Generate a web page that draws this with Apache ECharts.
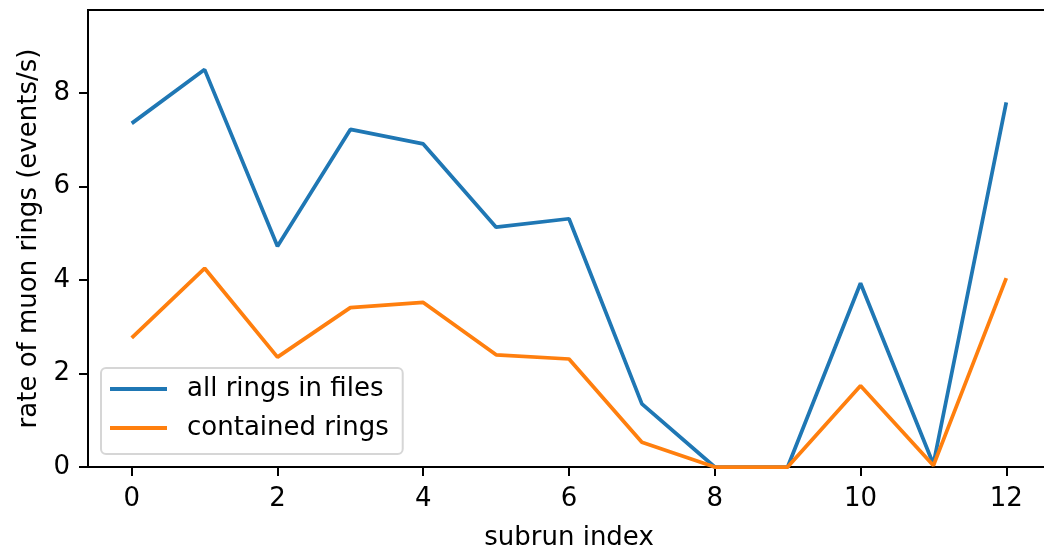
<!DOCTYPE html>
<html>
<head>
<meta charset="utf-8">
<script src="https://cdn.jsdelivr.net/npm/echarts@6/dist/echarts.min.js"></script>
<style>
  html, body { margin: 0; padding: 0; background: #fff; }
  #chart { width: 1044px; height: 549px; }
</style>
</head>
<body>
<div id="chart"></div>
<script>
// subrun indices on the x axis
const subruns = [0, 1, 2, 3, 4, 5, 6, 7, 8, 9, 10, 11, 12];
// muon ring rates (events/s) per subrun
const allRings = [7.35, 8.50, 4.72, 7.22, 6.91, 5.13, 5.31, 1.35, 0.0, 0.0, 3.93, 0.06, 7.80];
const containedRings = [2.76, 4.25, 2.35, 3.41, 3.52, 2.40, 2.31, 0.53, 0.0, 0.0, 1.74, 0.03, 4.04];
// tick values
const xTicks = [0, 2, 4, 6, 8, 10, 12];
const yTicks = [0, 2, 4, 6, 8];

const FONT = 'DejaVu Sans';
const pairs = (ys) => subruns.map((x, i) => [x, ys[i]]);

const chart = echarts.init(document.getElementById('chart'), null, { renderer: 'canvas' });
chart.setOption({
  animation: false,
  backgroundColor: '#ffffff',
  textStyle: { fontFamily: FONT },
  grid: {
    left: 88, top: 10, right: -6, bottom: 82,
    outerBoundsMode: 'none',
    containLabel: false,
    show: true, borderColor: '#000', borderWidth: 2, backgroundColor: 'transparent'
  },
  xAxis: {
    type: 'value',
    min: -0.6, max: 12.6,
    name: 'subrun index',
    nameLocation: 'middle',
    nameGap: 58,
    nameTextStyle: { fontFamily: FONT, fontSize: 26, color: '#000' },
    axisLine: { show: true, onZero: false, lineStyle: { color: '#000', width: 2 } },
    axisTick: { show: true, length: 9, lineStyle: { color: '#000', width: 2 }, customValues: xTicks },
    axisLabel: { fontFamily: FONT, fontSize: 26, color: '#000', margin: 19, customValues: xTicks },
    splitLine: { show: false }
  },
  yAxis: {
    type: 'value',
    min: 0, max: 9.775,
    name: 'rate of muon rings (events/s)',
    nameLocation: 'middle',
    nameGap: 44,
    nameTextStyle: { fontFamily: FONT, fontSize: 26, color: '#000' },
    axisLine: { show: true, onZero: false, lineStyle: { color: '#000', width: 2 } },
    axisTick: { show: true, length: 9, lineStyle: { color: '#000', width: 2 }, customValues: yTicks },
    axisLabel: { fontFamily: FONT, fontSize: 26, color: '#000', margin: 18, customValues: yTicks },
    splitLine: { show: false }
  },
  legend: {
    orient: 'vertical',
    left: 101, top: 368,
    padding: [6, 14, 11, 9],
    itemGap: 9,
    itemWidth: 57,
    itemHeight: 4,
    icon: 'rect',
    backgroundColor: '#ffffff',
    borderColor: '#d6d6d6',
    borderWidth: 2,
    borderRadius: 5,
    textStyle: { fontFamily: FONT, fontSize: 26, color: '#000', lineHeight: 30, padding: [0, 0, 0, 15] },
    data: ['all rings in files', 'contained rings']
  },
  series: [
    {
      name: 'all rings in files',
      type: 'line',
      data: pairs(allRings),
      symbol: 'none',
      color: '#1f77b4',
      lineStyle: { color: '#1f77b4', width: 3.75 }
    },
    {
      name: 'contained rings',
      type: 'line',
      data: pairs(containedRings),
      symbol: 'none',
      color: '#ff7f0e',
      lineStyle: { color: '#ff7f0e', width: 3.75 }
    }
  ]
});
</script>
</body>
</html>
